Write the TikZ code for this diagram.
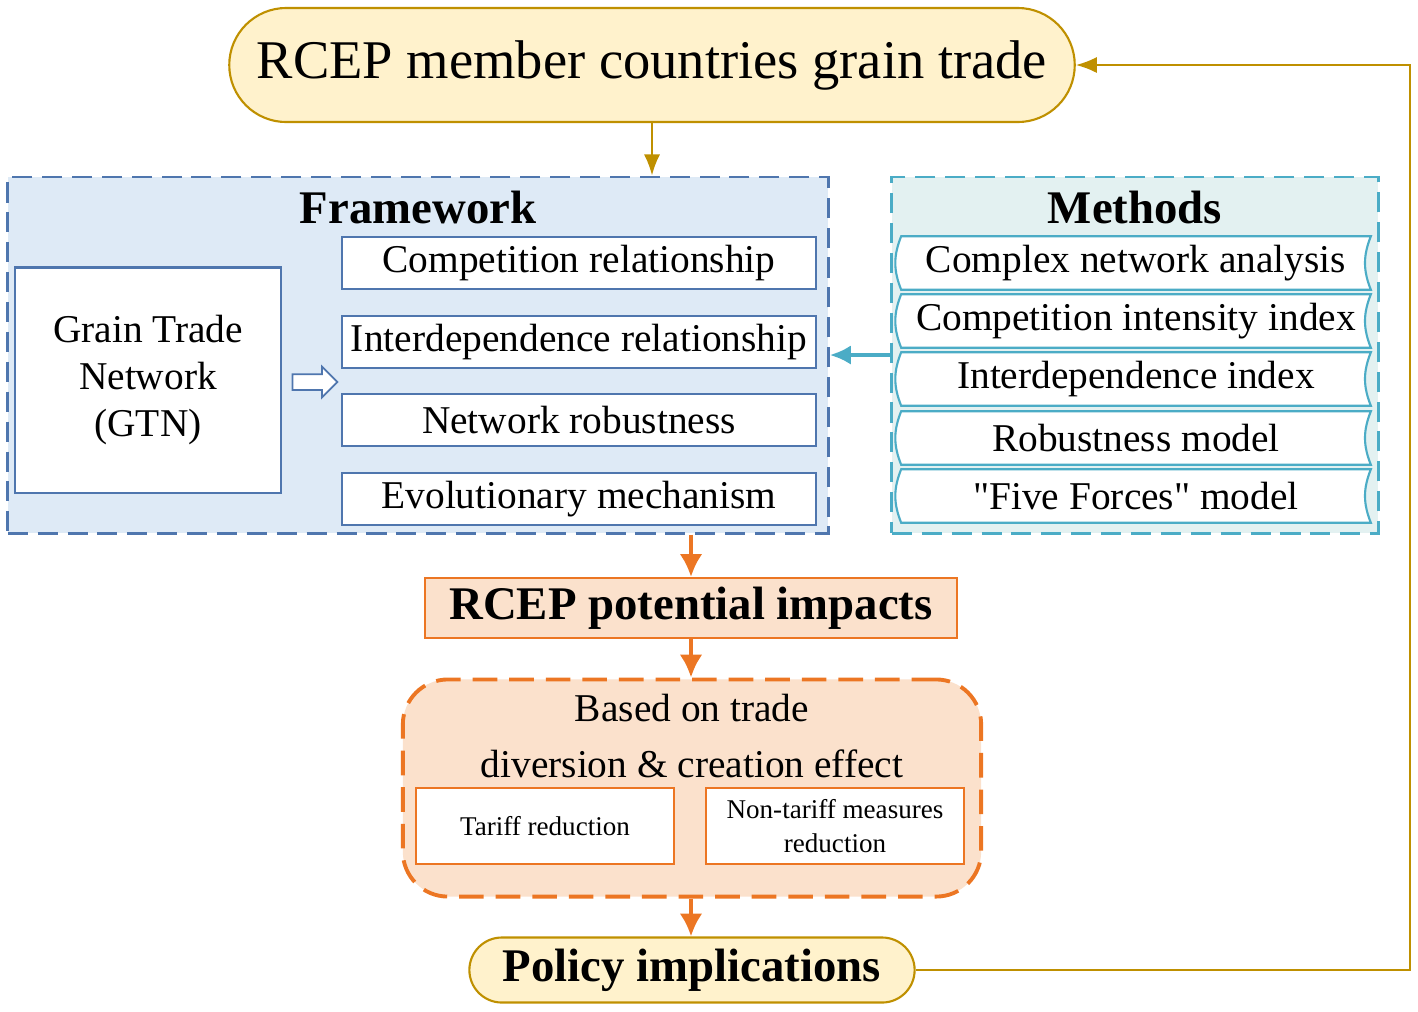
\documentclass[tikz,border=0pt]{standalone}
\usepackage{fontspec}
\setmainfont{Liberation Serif}
\newfontfamily\qf{Liberation Serif}
\usetikzlibrary{arrows.meta, shapes.arrows, scopes}
\definecolor{gold}{HTML}{BF9000}
\definecolor{goldfill}{HTML}{FFF2CC}
\definecolor{fwline}{HTML}{4F76AE}
\definecolor{fwfill}{HTML}{DEEAF6}
\definecolor{mtline}{HTML}{4BACC6}
\definecolor{mtfill}{HTML}{E3F1F1}
\definecolor{orline}{HTML}{EC7623}
\definecolor{orfill}{HTML}{FBE1CC}
\newcommand{\fs}[1]{\fontsize{#1}{1.2\dimexpr#1pt\relax}\selectfont}
\tikzset{
  >={Latex[length=6pt, width=4.6pt]},
  pl/.style={draw=gold, fill=goldfill, line width=0.6pt, rounded corners=#1, inner sep=0pt},
  db/.style={draw=#1, dash pattern=on 5.7pt off 2.8pt, line width=0.8pt, inner sep=0pt},
  it/.style={draw=fwline, fill=white, line width=0.6pt, inner sep=0pt,
    minimum width=4.73cm, minimum height=0.52cm, font=\fs{11.2}},
  mi/.style={inner sep=0pt, minimum width=4.68cm, minimum height=0.52cm},
  ob/.style={draw=orline, fill=white, line width=0.6pt, inner sep=0pt, align=center,
    minimum width=2.57cm, minimum height=0.76cm, font=\fs{7.7}},
  hd/.style={font=\bfseries\fs{13.3}, inner sep=0pt}
}

\begin{document}
\begin{tikzpicture}[x=0.01cm, y=-0.01cm, line/.style={draw, line width=0.6pt}]
  \useasboundingbox (0,0) rectangle (1418,1011);

  \node[pl=0.57cm, minimum width=8.45cm, minimum height=1.14cm, font=\fs{15.5}] (src) at (652,65) {RCEP member countries grain trade};

  % framework part
  \node[db=fwline, fill=fwfill, minimum width=8.2cm, minimum height=3.56cm] (fw) at (418,355) {};
  \node[hd] (fwt) at (418,207) {Framework};
  \node[draw=fwline, fill=white, line width=0.6pt, align=center, minimum width=2.65cm, minimum height=2.25cm,
    font=\fontsize{11.2}{13.4}\selectfont] (gtn) at (148,380) {Grain Trade\\Network\\(GTN)};
  \foreach \y/\t [count=\i] in {263/Competition relationship, 342/Interdependence relationship,
      420/Network robustness, 499/Evolutionary mechanism}
    \node[it] (f\i) at (579,\y) {\t};
  \node[single arrow, draw=fwline, fill=white, line width=0.5pt, inner xsep=0pt, inner ysep=0.07cm,
    minimum height=0.45cm, single arrow head extend=0.075cm] (ha) at (311,382) {};

  % methods part
  \node[db=mtline, fill=mtfill, minimum width=4.86cm, minimum height=3.56cm] (mt) at (1135,355) {};
  \node[hd] (mtt) at (1135,207) {Methods};
  \foreach \y/\t [count=\i] in {263/Complex network analysis, 321/Competition intensity index,
      379/Interdependence index, 438/Robustness model, 496/{{\qf"}Five Forces{\qf"} model}}{
    \node[mi] (m\i) at (1136,\y) {};
    \draw[mtline, fill=white, line width=0.6pt] (m\i.north west) to[bend right=22] (m\i.south west)
      -- (m\i.south east) to[bend left=22] (m\i.north east) -- cycle;
    \node[font=\fs{11.2}, inner sep=0pt] (mt\i) at (m\i) {\t};
  }

  % impacts part
  \node[draw=orline, fill=orfill, line width=0.6pt, minimum width=5.31cm, minimum height=0.6cm] (imp) at (691,608) {};
  \node[hd] (impt) at (imp) {RCEP potential impacts};
  \node[draw=orline, fill=orfill, dash pattern=on 7pt off 3.4pt, line width=1.1pt, rounded corners=0.45cm,
    minimum width=5.78cm, minimum height=2.17cm] (eff) at (692,788) {};
  \node[align=center, inner sep=0pt, font=\fontsize{11.2}{16.2}\selectfont] (efft) at (692,736) {Based on trade\\diversion \& creation effect};
  \node[ob] (tr) at (545,826) {Tariff reduction};
  \node[ob, font=\fontsize{7.7}{9.7}\selectfont] (ntr) at (835,826) {Non-tariff measures\\reduction};

  \node[pl=0.325cm, minimum width=4.45cm, minimum height=0.65cm, font=\bfseries\fs{13.3}] (pol) at (692,970) {Policy implications};
  \coordinate (fb) at (1410,970);

  {[->, gold, line width=0.6pt]
    \draw (src) -- (src |- fw.north);
    \draw (pol.east) -- (fb) |- (src.east);
  }
  {[-{Latex[length=6.5pt, width=6.5pt]}, orline, line width=1.2pt]
    \draw (imp.north |- fw.south) -- (imp.north);
    \draw (imp.south) -- (eff.north -| imp.south);
    \draw (eff.south -| imp.south) -- (pol.north -| imp.south);
  }
  \draw[-{Latex[length=6pt, width=5.5pt]}, mtline, line width=1.2pt] (mt.west) -- (fw.east);

\end{tikzpicture}
\end{document}
